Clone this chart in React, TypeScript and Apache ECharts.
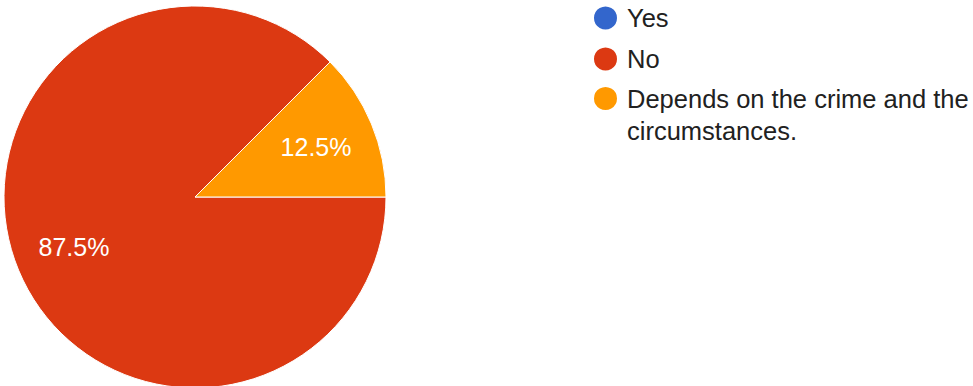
import React, { useEffect, useRef } from "react";
import * as echarts from "echarts";

const categories = ["Yes", "No", "Depends on the crime and the circumstances."];
const counts = [0, 7, 1];
const palette = ["#3366CC", "#DC3912", "#FF9900"];

const FONT = "'Liberation Sans', Arial, sans-serif";
const LEGEND_FONT_SIZE = 25.5;
const LEGEND_TEXT_WIDTH = 346;

function wrapWords(text: string, maxWidth: number): string {
  const ctx = document.createElement("canvas").getContext("2d");
  if (!ctx) return text;
  ctx.font = `${LEGEND_FONT_SIZE}px ${FONT}`;
  const words = text.split(" ");
  const lines: string[] = [];
  let cur = "";
  for (const w of words) {
    const trial = cur ? cur + " " + w : w;
    if (cur && ctx.measureText(trial).width > maxWidth) {
      lines.push(cur);
      cur = w;
    } else {
      cur = trial;
    }
  }
  if (cur) lines.push(cur);
  return lines.join("\n");
}

export default function App() {
  const ref = useRef<HTMLDivElement>(null);
  useEffect(() => {
    if (!ref.current) return;
    const chart = echarts.init(ref.current, undefined, { renderer: "svg" });
    const data = categories.map((name, i) => ({ name, value: counts[i] }));
    const legendBase = {
      orient: "vertical" as const,
      left: 592,
      padding: 0,
      itemWidth: 25,
      itemHeight: 25,
      icon: "circle",
      selectedMode: false,
      inactiveColor: "#212121",
    };
    chart.setOption({
      animation: false,
      color: palette,
      textStyle: { fontFamily: FONT },
      legend: [
        {
          ...legendBase,
          top: 3,
          itemGap: 11,
          data: categories.slice(0, 2),
          textStyle: {
            fontFamily: FONT,
            fontSize: LEGEND_FONT_SIZE,
            color: "#212121",
            lineHeight: 30,
            padding: [0, 0, 0, 4],
          },
        },
        {
          ...legendBase,
          top: 50.5,
          data: categories.slice(2),
          // blank first line keeps the first text line centred on the icon
          formatter: (name: string) => "\n" + wrapWords(name, LEGEND_TEXT_WIDTH),
          textStyle: {
            fontFamily: FONT,
            fontSize: LEGEND_FONT_SIZE,
            color: "#212121",
            lineHeight: 32,
            padding: [0, 0, 0, 4],
          },
        },
      ],
      series: [
        {
          type: "pie",
          center: [195, 197],
          radius: 191,
          clockwise: false,
          startAngle: 45,
          silent: true,
          label: { show: false },
          labelLine: { show: false },
          itemStyle: { borderColor: "#ffffff", borderWidth: 1 },
          emphasis: { disabled: true },
          data,
        },
        {
          type: "pie",
          center: [195, 197],
          radius: [65, 191],
          clockwise: false,
          startAngle: 45,
          silent: true,
          itemStyle: { color: "transparent", borderWidth: 0 },
          label: {
            show: true,
            position: "inside",
            color: "#ffffff",
            fontSize: 25,
            fontFamily: FONT,
            formatter: (p: any) => (p.value ? p.percent.toFixed(1) + "%" : ""),
          },
          labelLine: { show: false },
          emphasis: { disabled: true },
          data,
        },
      ],
    });
    return () => chart.dispose();
  }, []);
  return (
    <div
      ref={ref}
      style={{ position: "fixed", left: 0, top: 0, width: 973, height: 386, background: "#ffffff" }}
    />
  );
}
